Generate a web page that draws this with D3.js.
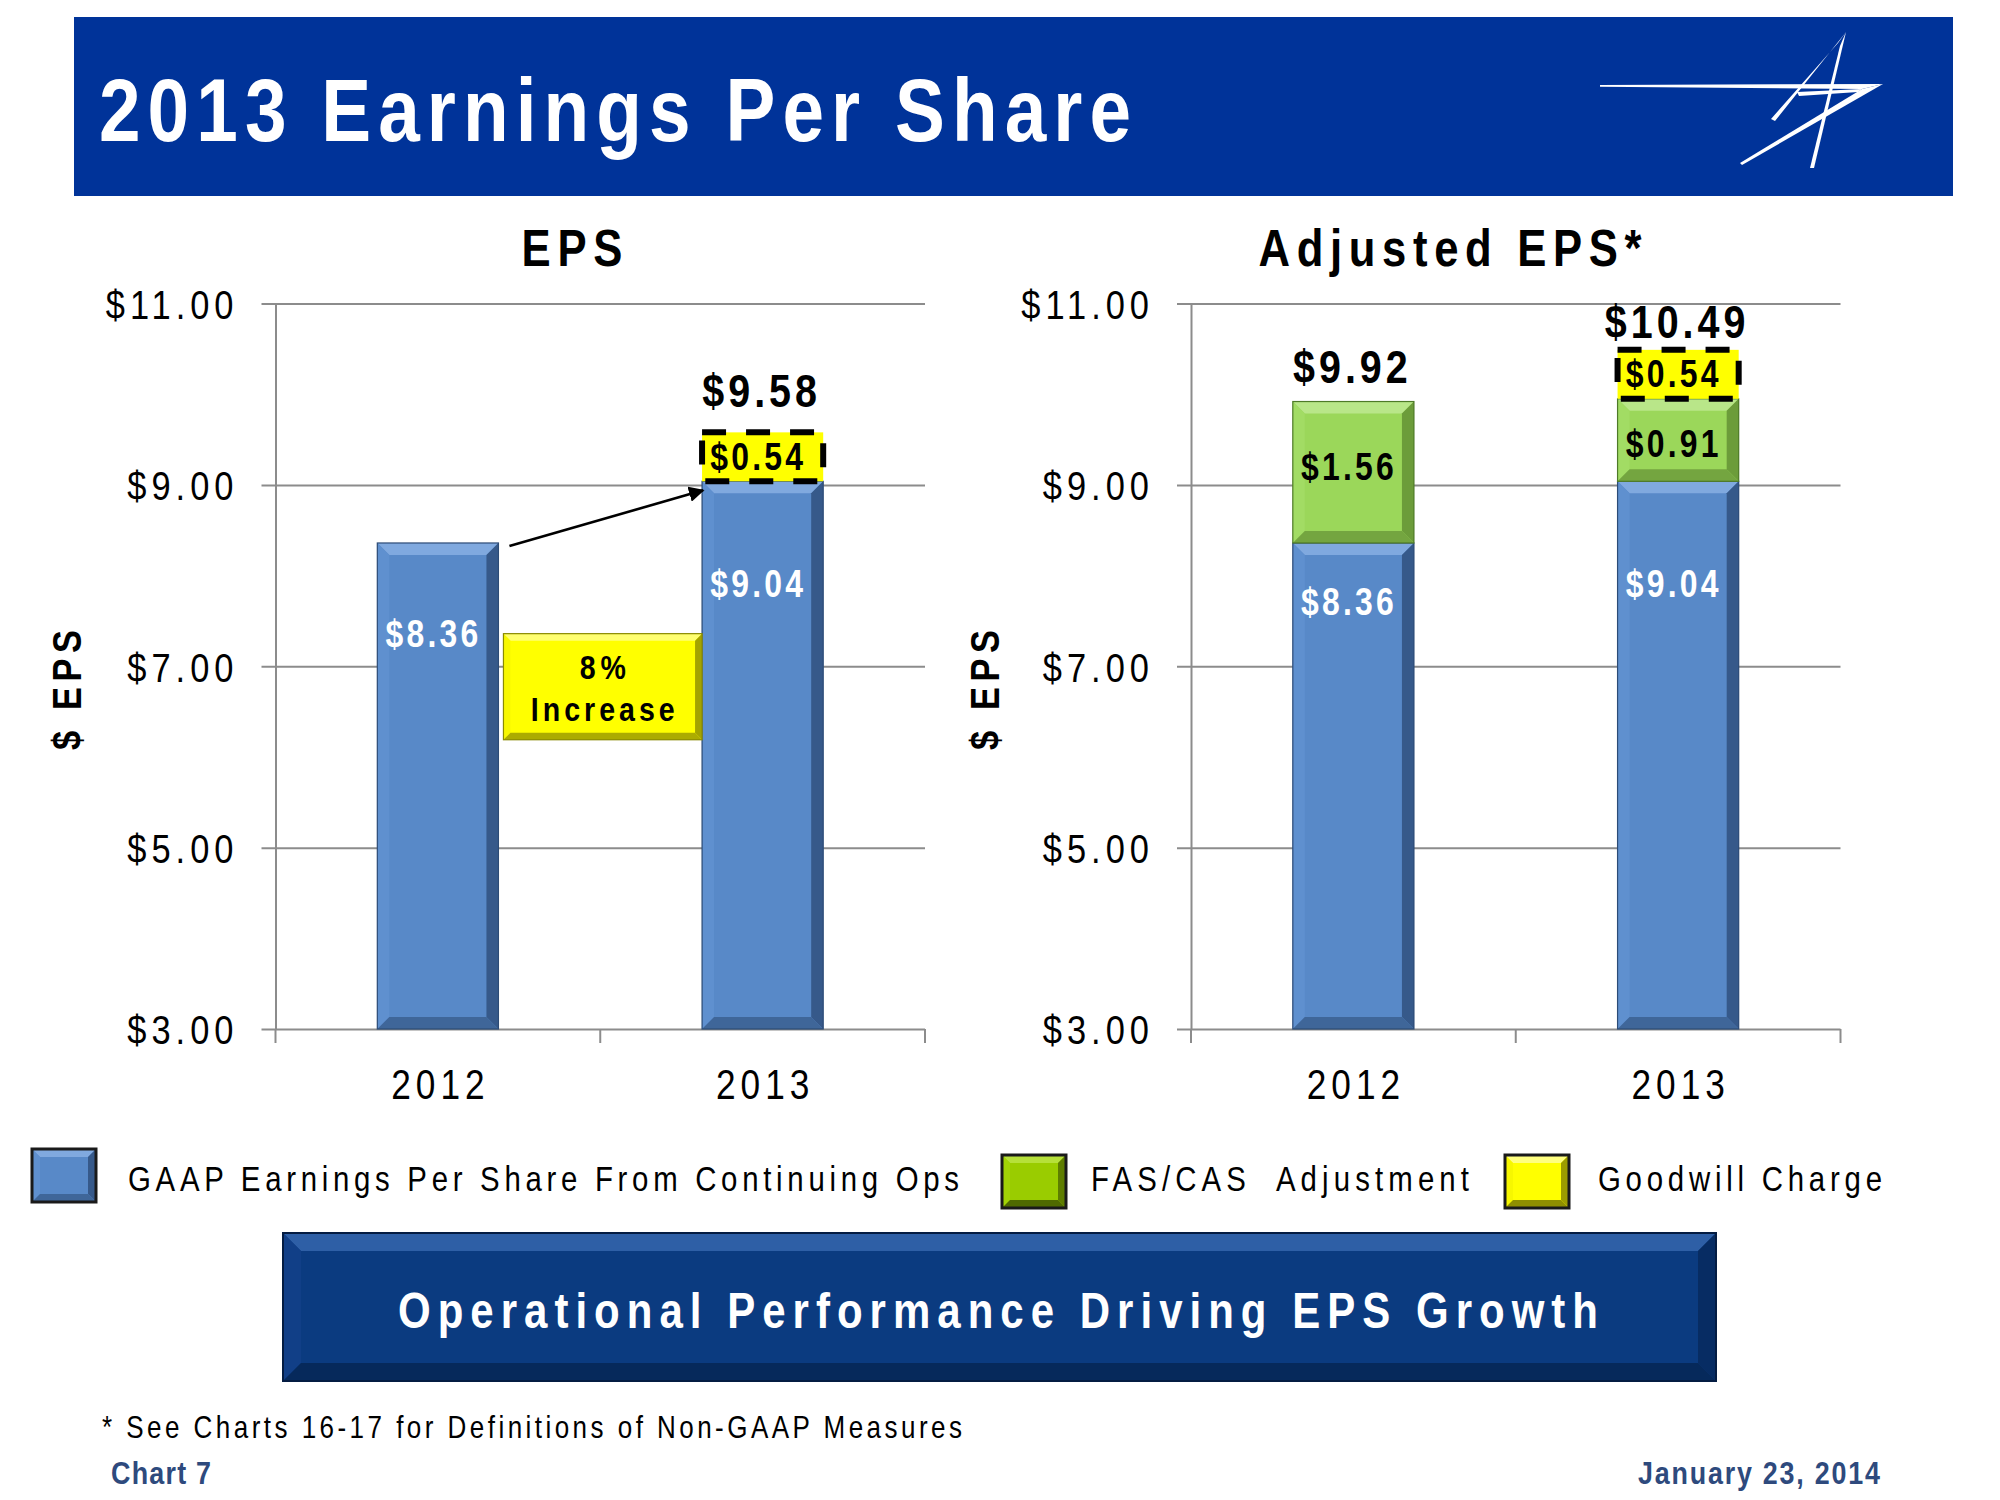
<!DOCTYPE html>
<html><head><meta charset="utf-8">
<script src="https://cdn.jsdelivr.net/npm/d3@7"></script>
<style>html,body{margin:0;padding:0;background:#fff;} svg{display:block;} text{white-space:pre;}</style>
</head><body><svg id="chart" width="2000" height="1500"></svg>
<script>
// ---------------- DATA ----------------
const years = ["2012", "2013"];
const gaapEPS = [8.36, 9.04];            // GAAP EPS from continuing ops
const goodwillCharge = [0, 0.54];        // goodwill charge
const fasCasAdjustment = [1.56, 0.91];   // FAS/CAS adjustment (adjusted chart)
const epsTotals = [null, 9.58];          // totals shown above EPS bars
const adjustedTotals = [9.92, 10.49];    // totals shown above adjusted bars
const yTickValues = [3, 5, 7, 9, 11];
const increaseLabel = ["8%", "Increase"];
const legendLabels = ["GAAP Earnings Per Share From Continuing Ops", "FAS/CAS  Adjustment", "Goodwill Charge"];

// ---------------- STYLE ----------------
const FONT = "'Liberation Sans',Arial,sans-serif";
const NS = 0.84; // horizontal squeeze to imitate a narrow face
const PAL = {
  gaap:   {base:'#5889C8', top:'#80A9DF', left:'#5F90CF', right:'#36598A', bottom:'#3F6699', edge:'#2C4B76'},
  fascas: {base:'#9BD75A', top:'#B9E689', left:'#A2DC64', right:'#6C9C3A', bottom:'#74A540', edge:'#4E7A28'},
  yellow: {base:'#FFFF00', top:'#FFFF70', left:'#F7F700', right:'#A3A300', bottom:'#ACAC00', edge:'#8A8A00'},
  banner: {base:'#0B3B80', top:'#2E5FA6', left:'#113F87', right:'#072C63', bottom:'#06295B', edge:'#041C42'},
  legGreen:{base:'#9ACC00', top:'#B6E03A', left:'#A2D405', right:'#5E7D00', bottom:'#4F6A00', edge:'#1A1A1A'},
  legBlue: {base:'#5889C8', top:'#80A9DF', left:'#5F90CF', right:'#36598A', bottom:'#3F6699', edge:'#1A1A1A'},
  legYellow:{base:'#FFFF00', top:'#FFFF80', left:'#F7F700', right:'#9C9C00', bottom:'#8F8F00', edge:'#1A1A1A'}
};

const svg = d3.select('#chart');

// text drawn with narrow-looking glyphs (horizontal squeeze) and optional exact width / spacing
function txt(g, o) {
  const grp = g.append('g').attr('transform',
    `translate(${o.x},${o.y})${o.rotate ? ` rotate(${o.rotate})` : ''} scale(${NS},1)`);
  const t = grp.append('text')
    .attr('x', 0).attr('y', 0)
    .attr('font-family', FONT)
    .attr('font-size', o.size)
    .attr('font-weight', o.weight || 'normal')
    .attr('fill', o.fill || '#000')
    .attr('text-anchor', o.anchor || 'start')
    .text(o.text);
  if (o.width) t.attr('textLength', o.width / NS).attr('lengthAdjust', 'spacing');
  if (o.ls) {
    t.attr('letter-spacing', o.ls / NS);
    if ((o.anchor || 'start') === 'middle') t.attr('dx', o.ls / NS / 2);
  }
  return t;
}

function bevel(g, x, y, w, h, p, b, edgeW) {
  b = Math.min(b, h / 2, w / 2);
  const gg = g.append('g');
  gg.append('rect').attr('x', x).attr('y', y).attr('width', w).attr('height', h).attr('fill', p.base);
  const poly = (pts, fill) => gg.append('polygon').attr('points', pts.map(d => d.join(',')).join(' ')).attr('fill', fill);
  poly([[x, y], [x + w, y], [x + w - b, y + b], [x + b, y + b]], p.top);
  poly([[x, y], [x + b, y + b], [x + b, y + h - b], [x, y + h]], p.left);
  poly([[x + w, y], [x + w, y + h], [x + w - b, y + h - b], [x + w - b, y + b]], p.right);
  poly([[x, y + h], [x + w, y + h], [x + w - b, y + h - b], [x + b, y + h - b]], p.bottom);
  gg.append('rect').attr('x', x).attr('y', y).attr('width', w).attr('height', h)
    .attr('fill', 'none').attr('stroke', p.edge).attr('stroke-width', edgeW || 1.2);
  return gg;
}

// ---------------- HEADER ----------------
svg.append('rect').attr('x', 74).attr('y', 17).attr('width', 1879).attr('height', 179).attr('fill', '#003399');
txt(svg, {x: 99, y: 141, text: '2013 Earnings Per Share', size: 89, weight: 'bold', fill: '#fff', width: 1032});
// logo (stylised star)
const logo = svg.append('g').attr('fill', '#fff');
logo.append('polygon').attr('points', '1600,85 1883,84 1862,89 1600,86.8');
logo.append('polygon').attr('points', '1883,84 1742,165 1740,163 1862,89');
logo.append('polygon').attr('points', '1846,32 1814,168 1810,168 1840,46');
logo.append('polygon').attr('points', '1846,32 1775,121 1771,119 1838,43');
logo.append('polygon').attr('points', '1797,92 1862,89 1858,92 1799,96');

// ---------------- CHARTS ----------------
const yRange = [1029, 303.6];
function makeChart(cfg) {
  const g = svg.append('g');
  const x = d3.scaleBand().domain(years).range([cfg.x0, cfg.x1]).padding(0);
  const y = d3.scaleLinear().domain([3, 11]).range(yRange);
  const W = cfg.x1 - cfg.x0;
  const bw = x.bandwidth() * 0.373;

  // y axis with gridlines
  const yAxis = d3.axisLeft(y).tickValues(yTickValues).tickSize(-W).tickSizeOuter(0)
    .tickPadding(42).tickFormat(d => '$' + d3.format('.2f')(d));
  const ya = g.append('g').attr('transform', `translate(${cfg.x0},0)`).call(yAxis);
  ya.select('.domain').attr('stroke', '#8C8C8C').attr('stroke-width', 2);
  ya.selectAll('.tick line').attr('x1', -14).attr('stroke', '#8C8C8C').attr('stroke-width', 2);
  ya.selectAll('.tick text').attr('font-family', FONT).attr('font-size', 41).attr('fill', '#000')
    .attr('letter-spacing', 5 / NS).attr('dy', '0.36em')
    .attr('x', -37 / NS).attr('transform', `scale(${NS},1)`);

  // x axis (labels at centres, ticks at band edges)
  const xa = g.append('g').attr('transform', `translate(0,${y(3)})`)
    .call(d3.axisBottom(x).tickSize(0).tickPadding(70));
  xa.select('.domain').remove();
  xa.selectAll('.tick text').attr('font-family', FONT).attr('font-size', 42).attr('fill', '#000')
    .attr('letter-spacing', 5 / NS).attr('dy', '0').attr('dx', 2.5 / NS)
    .attr('transform', `scale(${NS},1)`);
  const edges = [cfg.x0, ...years.map(d => x(d) + x.bandwidth())];
  g.selectAll('line.xt').data(edges).join('line').attr('class', 'xt')
    .attr('x1', d => d).attr('x2', d => d).attr('y1', y(3)).attr('y2', y(3) + 14)
    .attr('stroke', '#8C8C8C').attr('stroke-width', 2);

  // stacked bars (baseline at the axis minimum, 3)
  const rows = years.map((yr, i) => {
    const r = {year: yr};
    cfg.keys.forEach(k => r[k] = cfg.series[k][i]);
    r[cfg.keys[0]] -= 3;
    return r;
  });
  const stacked = d3.stack().keys(cfg.keys)(rows);
  stacked.forEach(layer => layer.forEach(d => { d[0] += 3; d[1] += 3; }));

  const barG = g.append('g');
  stacked.forEach(layer => {
    const key = layer.key;
    layer.forEach((d, i) => {
      if (d[1] - d[0] <= 0) return;
      const bx = x(years[i]) + (x.bandwidth() - bw) / 2;
      const y0 = y(d[1]), h = y(d[0]) - y(d[1]);
      if (key === 'goodwill') {
        barG.append('rect').attr('x', bx).attr('y', y0).attr('width', bw).attr('height', h).attr('fill', '#FFFF00');
        barG.append('rect').attr('x', bx).attr('y', y0).attr('width', bw).attr('height', h)
          .attr('fill', 'none').attr('stroke', '#000').attr('stroke-width', 6).attr('stroke-dasharray', '24 20');
      } else {
        bevel(barG, bx, y0, bw, h, PAL[key], 12);
      }
    });
  });

  // segment labels
  stacked.forEach(layer => {
    const key = layer.key;
    layer.forEach((d, i) => {
      const v = d[1] - d[0];
      if (v <= 0) return;
      const val = cfg.series[key][i];
      const cx = x(years[i]) + x.bandwidth() / 2 - 6;
      const ly = key === 'gaap' ? y(d[1]) + cfg.labelDy[key][i] : (y(d[0]) + y(d[1])) / 2 + cfg.labelDy[key][i];
      txt(g, {x: cx, y: ly, text: '$' + val.toFixed(2), size: 38, weight: 'bold',
        fill: key === 'gaap' ? '#fff' : '#000', anchor: 'middle', ls: 3.2});
    });
  });
  // totals
  cfg.totals.forEach((t, i) => {
    if (t == null) return;
    const cx = x(years[i]) + x.bandwidth() / 2 - 3;
    txt(g, {x: cx, y: y(t) + cfg.totalDy[i], text: '$' + t.toFixed(2), size: 47, weight: 'bold', anchor: 'middle', ls: 4});
  });

  // titles
  txt(g, {x: cfg.titleX, y: 266, text: cfg.title, size: 52, weight: 'bold', anchor: 'middle', width: cfg.titleW});
  txt(g, {x: cfg.yTitleX, y: 690, rotate: -90, text: '$ EPS', size: 41, weight: 'bold', anchor: 'middle', width: 120});
  return {x, y, bw, g};
}

const left = makeChart({
  x0: 275.5, x1: 925, keys: ['gaap', 'goodwill'],
  series: {gaap: gaapEPS, goodwill: goodwillCharge},
  totals: epsTotals, totalDy: [0, -25],
  labelDy: {gaap: [104, 116], goodwill: [13, 13]},
  title: 'EPS', titleX: 572, titleW: 101, yTitleX: 81
});
const right = makeChart({
  x0: 1191, x1: 1840.5, keys: ['gaap', 'fascas', 'goodwill'],
  series: {gaap: gaapEPS, fascas: fasCasAdjustment, goodwill: goodwillCharge},
  totals: adjustedTotals, totalDy: [-19, -12],
  labelDy: {gaap: [72, 116], fascas: [8, 17], goodwill: [13, 13]},
  title: 'Adjusted EPS*', titleX: 1450, titleW: 383, yTitleX: 999
});

// ---------------- ANNOTATIONS (left chart) ----------------
{
  const {x, y, bw, g} = left;
  const r2012 = x('2012') + (x.bandwidth() + bw) / 2;
  const l2013 = x('2013') + (x.bandwidth() - bw) / 2;
  const defs = svg.append('defs');
  defs.append('marker').attr('id', 'ah').attr('viewBox', '0 0 10 10').attr('refX', 9).attr('refY', 5)
    .attr('markerWidth', 6).attr('markerHeight', 6).attr('orient', 'auto')
    .append('path').attr('d', 'M0,0 L10,5 L0,10 z').attr('fill', '#000');
  g.append('line').attr('x1', r2012 + 11).attr('y1', y(gaapEPS[0]) + 3)
    .attr('x2', l2013 + 1).attr('y2', y(gaapEPS[1]) + 9)
    .attr('stroke', '#000').attr('stroke-width', 2.6).attr('marker-end', 'url(#ah)');
  const bx = r2012 + 5, by = y(7.36), bh = y(6.19) - y(7.36);
  bevel(g, bx, by, l2013 - bx, bh, PAL.yellow, 7);
  const cx = (bx + l2013) / 2;
  txt(g, {x: cx, y: by + 45, text: increaseLabel[0], size: 34, weight: 'bold', anchor: 'middle', width: 46});
  txt(g, {x: cx, y: by + 87, text: increaseLabel[1], size: 34, weight: 'bold', anchor: 'middle', width: 144});
}

// ---------------- LEGEND ----------------
{
  const lg = svg.append('g');
  const items = [
    {pal: PAL.legBlue, sx: 32, sy: 1149, tx: 128, w: 831},
    {pal: PAL.legGreen, sx: 1002, sy: 1155, tx: 1091, w: 378},
    {pal: PAL.legYellow, sx: 1505, sy: 1155, tx: 1598, w: 284}
  ];
  items.forEach((it, i) => {
    bevel(lg, it.sx, it.sy, 64, 53, it.pal, 8, 3);
    txt(lg, {x: it.tx, y: 1191, text: legendLabels[i], size: 35, width: it.w});
  });
}

// ---------------- BANNER ----------------
bevel(svg, 283, 1233, 1433, 148, PAL.banner, 18, 2);
txt(svg, {x: 998, y: 1328, text: 'Operational Performance Driving EPS Growth', size: 50, weight: 'bold',
  fill: '#fff', anchor: 'middle', width: 1200});

// ---------------- FOOTER ----------------
txt(svg, {x: 102, y: 1438, text: '* See Charts 16-17 for Definitions of Non-GAAP Measures', size: 31, width: 860});
txt(svg, {x: 111, y: 1484, text: 'Chart 7', size: 32, weight: 'bold', fill: '#2E4A7D', width: 100});
txt(svg, {x: 1880, y: 1484, text: 'January 23, 2014', size: 32, weight: 'bold', fill: '#2E4A7D', anchor: 'end', width: 242});
</script></body></html>
